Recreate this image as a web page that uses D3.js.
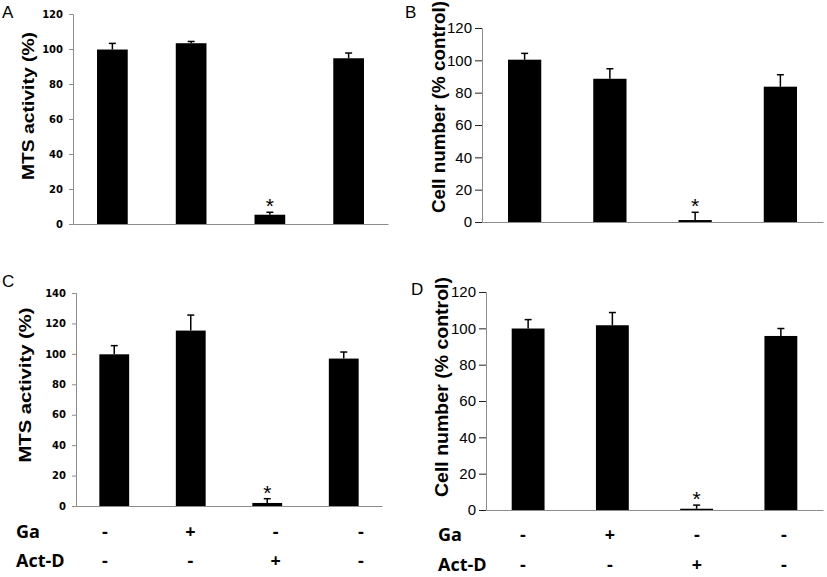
<!DOCTYPE html>
<html>
<head>
<meta charset="utf-8">
<script src="https://cdn.jsdelivr.net/npm/d3@7"></script>
<style>
  html, body { margin: 0; padding: 0; background: #fff; }
  svg { display: block; }
</style>
</head>
<body>
<svg id="chart" width="827" height="577"></svg>
<script>
// Data
const conditions = ["c1", "c2", "c3", "c4"];
const gaRow = ["-", "+", "-", "-"];
const actDRow = ["-", "-", "+", "-"];
const rowLabels = ["Ga", "Act-D"];

const mtsA = [99.7, 103.3, 5.3, 94.7];
const errA = [3.5, 1.0, 1.4, 3.0];
const cellB = [100.4, 88.6, 1.2, 83.7];
const errB = [3.9, 6.2, 4.8, 7.4];
const mtsC = [99.7, 115.3, 2.0, 96.9];
const errC = [5.7, 10.2, 2.8, 4.3];
const cellD = [99.9, 101.7, 0.7, 95.8];
const errD = [4.9, 7.0, 2.0, 4.1];

const ticks120 = [0, 20, 40, 60, 80, 100, 120];
const ticks140 = [0, 20, 40, 60, 80, 100, 120, 140];
const starIndex = 2;

const svg = d3.select("#chart");

// panel setup (layout only)
const panels = [
  { letter: "A", lx: 2, ly: 18, values: mtsA, errs: errA, ticks: ticks120, max: 120,
    left: 73, right: 388, top: 14, bottom: 224, style: "excel",
    label: "MTS activity (%)", labX: 34, labY: 106, labLen: 148 },
  { letter: "B", lx: 405, ly: 18, values: cellB, errs: errB, ticks: ticks120, max: 120,
    left: 482, right: 823, top: 28, bottom: 222, style: "prism",
    label: "Cell number (% control)", labX: 445, labY: 107, labLen: 212 },
  { letter: "C", lx: 2, ly: 287, values: mtsC, errs: errC, ticks: ticks140, max: 140,
    left: 76, right: 382, top: 293, bottom: 506, style: "excel",
    label: "MTS activity (%)", labX: 31, labY: 385, labLen: 155,
    rows: { labelX: 16, ys: [538, 567], cols: [105, 361] } },
  { letter: "D", lx: 411, ly: 295, values: cellD, errs: errD, ticks: ticks120, max: 120,
    left: 486, right: 823, top: 292, bottom: 510, style: "prism",
    label: "Cell number (% control)", labX: 448, labY: 387, labLen: 220,
    rows: { labelX: 438, ys: [541, 571], cols: [523, 784] } }
];

panels.forEach(p => {
  const g = svg.append("g");
  const excel = p.style === "excel";

  const x = d3.scaleBand().domain(conditions).range([p.left, p.right]).padding(0);
  const y = d3.scaleLinear().domain([0, p.max]).range([p.bottom, p.top]);
  const barW = x.bandwidth() * 0.39;

  // y axis
  const yAxis = g.append("g")
    .attr("transform", `translate(${p.left},0)`)
    .call(d3.axisLeft(y).tickValues(p.ticks).tickSizeOuter(0)
      .tickSize(excel ? 4 : 7).tickPadding(excel ? 6 : 3));
  yAxis.select(".domain").attr("stroke", "#8c8c8c");
  yAxis.selectAll(".tick line").attr("stroke", excel ? "#8c8c8c" : "#222");
  yAxis.selectAll(".tick text")
    .attr("fill", "#000")
    .style("font-family", excel ? "'DejaVu Sans'" : "'Liberation Sans', Arial")
    .style("font-weight", excel ? "bold" : "normal")
    .style("font-size", excel ? "10px" : "15px");

  // x axis line only
  const xAxis = g.append("g")
    .attr("transform", `translate(0,${p.bottom})`)
    .call(d3.axisBottom(x).tickSize(0).tickSizeOuter(0).tickFormat(""));
  xAxis.select(".domain").attr("stroke", "#8c8c8c");

  // bars
  g.selectAll("rect.bar")
    .data(p.values)
    .join("rect")
    .attr("class", "bar")
    .attr("x", (d, i) => x(conditions[i]) + x.bandwidth() / 2 - barW / 2)
    .attr("width", barW)
    .attr("y", d => y(d))
    .attr("height", d => y(0) - y(d))
    .attr("fill", "#000");

  // error bars (upper only)
  p.values.forEach((v, i) => {
    const cx = x(conditions[i]) + x.bandwidth() / 2;
    const top = y(v + p.errs[i]);
    g.append("line").attr("x1", cx).attr("x2", cx)
      .attr("y1", y(v)).attr("y2", top)
      .attr("stroke", "#000").attr("stroke-width", 1.5);
    g.append("line").attr("x1", cx - 3.5).attr("x2", cx + 3.5)
      .attr("y1", top).attr("y2", top)
      .attr("stroke", "#000").attr("stroke-width", 1.5);
    if (i === starIndex) {
      g.append("text")
        .attr("x", cx).attr("y", top + 1)
        .attr("text-anchor", "middle")
        .style("font-family", "'Liberation Sans', Arial")
        .style("font-size", "21px")
        .text("*");
    }
  });

  // y label
  g.append("text")
    .attr("transform", `translate(${p.labX},${p.labY}) rotate(-90)`)
    .attr("text-anchor", "middle")
    .style("font-family", "'Liberation Sans', Arial")
    .style("font-weight", "bold")
    .style("font-size", excel ? "17px" : "18px")
    .attr("textLength", p.labLen)
    .attr("lengthAdjust", "spacingAndGlyphs")
    .text(p.label);

  // panel letter
  g.append("text")
    .attr("x", p.lx).attr("y", p.ly)
    .style("font-family", "'Liberation Sans', Arial")
    .style("font-size", "17px")
    .text(p.letter);

  // treatment rows
  if (p.rows) {
    const cx = d3.scalePoint().domain(conditions).range(p.rows.cols);
    [gaRow, actDRow].forEach((row, r) => {
      g.append("text")
        .attr("x", p.rows.labelX).attr("y", p.rows.ys[r])
        .style("font-family", "'Open Sans'")
        .style("font-weight", "bold")
        .style("font-size", "18px")
        .text(rowLabels[r]);
      g.selectAll(null)
        .data(row)
        .join("text")
        .attr("x", (d, i) => cx(conditions[i]))
        .attr("y", p.rows.ys[r])
        .attr("text-anchor", "middle")
        .style("font-family", "'Open Sans'")
        .style("font-weight", "bold")
        .style("font-size", "18px")
        .text(d => d);
    });
  }
});
</script>
</body>
</html>
